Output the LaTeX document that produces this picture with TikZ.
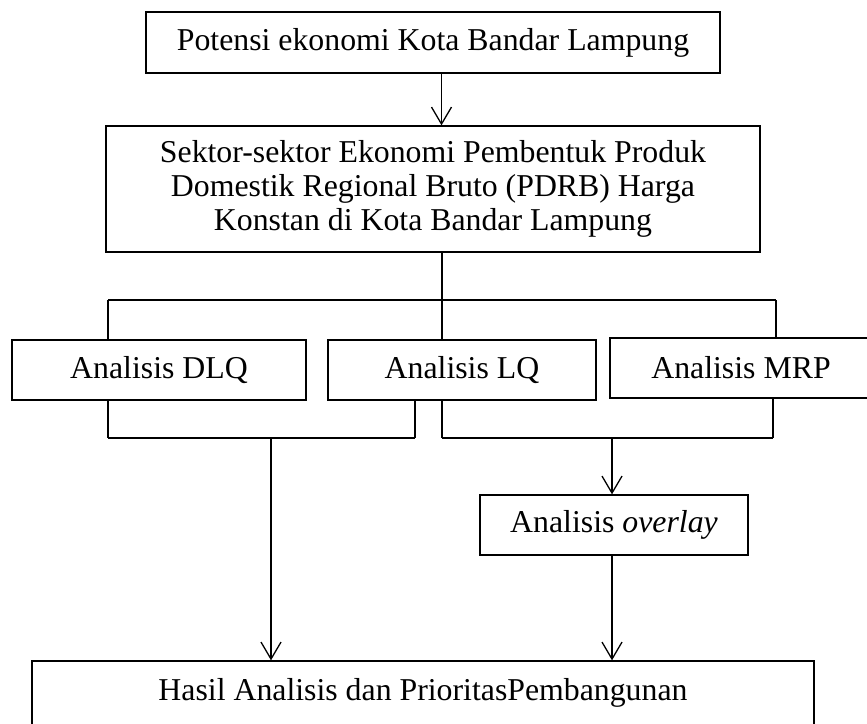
\documentclass[tikz,border=0pt]{standalone}
\usepackage{fontspec}
\setmainfont{Liberation Serif}
\usetikzlibrary{arrows.meta}
\begin{document}
\begin{tikzpicture}[x=1pt,y=-1pt,
  box/.style={draw, line width=1.3pt, rectangle, inner sep=0pt, align=center,
    font=\fontsize{31.8}{34}\selectfont},
  conn/.style={line width=1.3pt},
  bus/.style={line width=2pt},
  arr/.style={line width=1.3pt, -{Straight Barb[length=17pt,width=20pt]}}]
\clip (0,0) rectangle (867,723);
\node[box, minimum width=574pt, minimum height=61pt] (pot) at (433,42.5) {Potensi ekonomi Kota Bandar Lampung};
\node[box, minimum width=654pt, minimum height=126pt] (sek) at (433,189) {Sektor-sektor Ekonomi Pembentuk Produk\\Domestik Regional Bruto (PDRB) Harga\\Konstan di Kota Bandar Lampung};
\node[box, minimum width=294pt, minimum height=60pt] (dlq) at (159,370) {Analisis DLQ};
\node[box, minimum width=268pt, minimum height=60pt] (lq) at (462,370) {Analisis LQ};
\node[box, minimum width=262pt, minimum height=60pt] (mrp) at (741,368) {Analisis MRP};
\node[box, minimum width=268pt, minimum height=60pt] (ovl) at (614,525) {Analisis \textit{overlay}};
\node[box, minimum width=782pt, minimum height=64pt] (has) at (423,693) {Hasil Analisis dan PrioritasPembangunan};
% top arrow
\coordinate (ax) at (441.5,0);
\draw[arr] (pot.south -| ax) -- (sek.north -| ax);
% upper bus
\coordinate (b1) at (442,300);
\coordinate (bL) at (108,300);
\coordinate (bR) at (776,300);
\draw[conn] (sek.south -| b1) -- (b1);
\draw[bus] (bL) -- (bR);
\draw[conn] (bL) -- (bL |- dlq.north);
\draw[conn] (b1) -- (b1 |- lq.north);
\draw[conn] (bR) -- (bR |- mrp.north);
% lower left bus
\coordinate (cL) at (108,438);
\coordinate (cR) at (415,438);
\coordinate (cM) at (271,438);
\draw[conn] (cL |- dlq.south) -- (cL);
\draw[conn] (cR |- dlq.south) -- (cR);
\draw[bus] (cL) -- (cR);
\draw[arr] (cM) -- (cM |- has.north);
% lower right bus
\coordinate (dL) at (442,438);
\coordinate (dR) at (773,438);
\coordinate (dM) at (612,438);
\draw[conn] (dL |- lq.south) -- (dL);
\draw[conn] (dR |- mrp.south) -- (dR);
\draw[bus] (dL) -- (dR);
\draw[arr] (dM) -- (dM |- ovl.north);
\draw[arr] (ovl.south -| dM) -- (dM |- has.north);
\end{tikzpicture}
\end{document}
